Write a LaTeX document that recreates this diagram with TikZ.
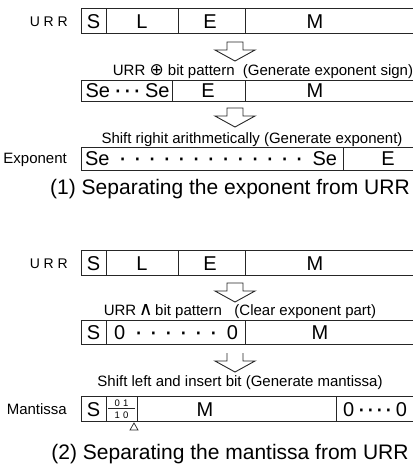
\documentclass[tikz,border=0pt]{standalone}
\usepackage{fontspec}
\setmainfont{Liberation Sans}
\newfontfamily\symfont{DejaVu Sans}
% a heavy centred dot used inside the register fields, padded by stretchable space
\newcommand\fd{\hfill\makebox[3pt]{\fontsize{26}{20}\selectfont\raisebox{-1.2pt}{·}}}
% register frame: top y, bottom y, x positions of the field dividers
\newcommand\regrow[3]{%
  \draw[reg] (413,#1) -- (81,#1) -- (81,#2) -- (413,#2);
  \foreach \d in {#3} \draw[reg] (\d,#1) -- (\d,#2);}
% hollow block arrow pointing down: centre x, top y
\newcommand\blockdown[2]{%
  \draw[blockarrow] (#1-8,#2) -- (#1+8,#2) -- (#1+8,#2+8) -- (#1+20,#2+8)
    -- (#1,#2+19) -- (#1-20,#2+8) -- (#1-8,#2+8) -- cycle;}
\begin{document}
\begin{tikzpicture}[x=1pt,y=-1pt,
  reg/.style={line width=0.9pt, draw=black!85},
  blockarrow/.style={line width=0.9pt, draw=black!85, line join=miter},
  cell/.style={font=\fontsize{20}{20}\selectfont, inner sep=0pt, anchor=base},
  note/.style={font=\fontsize{15}{15}\selectfont, inner sep=0pt, anchor=base},
  side/.style={font=\fontsize{15}{15}\selectfont, inner sep=0pt, anchor=base east},
  tiny/.style={font=\fontsize{9.5}{9.5}\selectfont, inner sep=0pt, anchor=base},
  caption/.style={font=\fontsize{21}{21}\selectfont, inner sep=0pt, anchor=base}]
\useasboundingbox (0,0) rectangle (413,467);

% ---------- (1) exponent ----------
\node[side, font=\fontsize{14}{14}\selectfont] (urrA) at (68,26) {\makebox[38pt][s]{U R R}};
\regrow{8}{33}{106,178,245}
\node[cell] (a1) at (93.5,28) {S};
\node[cell] (a2) at (142,28) {L};
\node[cell] (a3) at (210,28) {E};
\node[cell] (a4) at (315,28) {M};

\blockdown{235}{42}

\node[note] (t1) at (263,75) {URR {\symfont\fontsize{17}{17}\selectfont ⊕} bit pattern\ \ (Generate exponent sign)};

\regrow{80}{101}{172,245}
\node[cell] (b1) at (127.5,97.5) {\makebox[84pt]{Se\fd\fd\fd\hfill Se}};
\node[cell] (b2) at (208,97.5) {E};
\node[cell] (b3) at (315,97.5) {M};

\blockdown{235}{108}

\node[note] (t2) at (252,143) {Shift righit arithmetically (Generate exponent)};

\node[side] (expo) at (67,163) {Exponent};
\regrow{147}{170}{343}
\node[cell] (c1) at (211,165.5) {\makebox[252pt]{Se\fd\fd\fd\fd\fd\fd\fd\fd\fd\fd\fd\fd\fd\hfill Se}};
\node[cell] (c2) at (388,165.5) {E};

\node[caption] (cap1) at (230,194) {(1) Separating the exponent from URR};

% ---------- (2) mantissa ----------
\node[side, font=\fontsize{14}{14}\selectfont] (urrB) at (68,268) {\makebox[38pt][s]{U R R}};
\regrow{250}{275}{106,178,245}
\node[cell] (d1) at (93.5,270) {S};
\node[cell] (d2) at (142,270) {L};
\node[cell] (d3) at (210,270) {E};
\node[cell] (d4) at (315,270) {M};

\blockdown{235}{283}

\node[note] (t3) at (240,315) {URR\,{\symfont\fontsize{19}{19}\selectfont ∧}\,bit pattern\ \ \ (Clear exponent part)};

\regrow{320}{344}{106,245}
\node[cell] (e1) at (93.5,339) {S};
\node[cell] (e2) at (176,339) {\makebox[124pt]{0\fd\fd\fd\fd\fd\fd\hfill 0}};
\node[cell] (e3) at (320,339) {M};

% arrow whose top edge is not printed
\draw[blockarrow] (227,353) -- (227,361) -- (215,361) -- (235,372)
  -- (255,361) -- (243,361) -- (243,353);

\node[note] (t4) at (240,386) {Shift left and insert bit (Generate mantissa)};

\node[side] (mant) at (67,414) {Mantissa};
\regrow{396}{421}{106,137,336}
\node[cell] (f1) at (93.5,416) {S};
\node[tiny] (f2) at (121.5,406) {0\,\,1};
\draw[reg, line width=0.6pt] (108,408.5) -- (135,408.5);
\node[tiny] (f3) at (121.5,418) {1\,\,0};
\node[cell] (f4) at (205,416) {M};
\node[cell] (f5) at (375,416) {\makebox[64pt]{0\fd\fd\fd\fd\hfill 0}};
\draw[reg, line width=0.7pt] (134,423) -- (138,430) -- (130,430) -- cycle;

\node[caption] (cap2) at (230,459) {(2) Separating the mantissa from URR};
\end{tikzpicture}
\end{document}
